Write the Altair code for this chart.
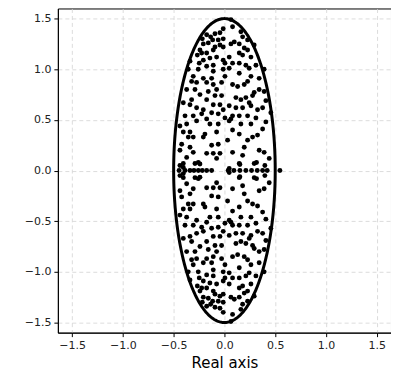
import altair as alt
import numpy as np
import pandas as pd

# Complex eigenvalues in the upper half-plane (real part, imaginary part); their conjugates are mirrored below
upper_re = [
    -0.012, -0.175, -0.136, -0.093, -0.044, -0.218, -0.116, -0.061, -0.012, -0.208,
    -0.159, -0.093, -0.044, -0.241, -0.224, -0.267, -0.175, -0.110, -0.012, -0.143,
    -0.077, -0.012, -0.208, -0.339, -0.248, -0.175, -0.110, 0.005,
    0.064, 0.080, 0.162, 0.179, 0.097, 0.064, 0.146, 0.228, 0.293, 0.195,
    0.228, 0.146, 0.179, 0.047, 0.261, 0.080, 0.146, 0.211, 0.310,
    -0.356, -0.258, -0.110, -0.012, -0.307, -0.208, -0.126, 0.005, -0.323, -0.274,
    -0.175, -0.110, -0.028, -0.372, -0.290, -0.159, -0.077, -0.241, -0.093, -0.028,
    -0.323, -0.175, -0.405, -0.339, -0.110, -0.044, -0.274, -0.208, -0.012, -0.126,
    -0.388, -0.307, -0.224, -0.061, 0.005, -0.175,
    0.047, 0.146, 0.244, 0.391, 0.261, 0.342, 0.228, 0.080, 0.130, 0.195,
    0.342, 0.391, 0.293, 0.113, 0.162, 0.211, 0.277, 0.244, 0.408, 0.047,
    0.113, 0.179, 0.261, 0.326, 0.376, 0.457, 0.080, 0.146, 0.228, 0.310, 0.064,
    -0.438, -0.372, -0.274, -0.143, -0.061, -0.405, -0.339, -0.192, -0.077, -0.356,
    -0.307, -0.208, -0.421, -0.339, -0.126, -0.061, -0.438, -0.307, -0.175, -0.110,
    -0.044, -0.372, -0.077, -0.290, -0.405,
    0.047, 0.162, 0.261, 0.408, 0.080, 0.146, 0.376, 0.031, 0.228, 0.277,
    0.326, 0.195, 0.080, 0.342, 0.391, 0.179, 0.441, 0.146, 0.293, 0.047,
    -0.257, 0.316, 0.398, -0.438, -0.405, -0.241, 0.152,
]
upper_im = [
    1.40, 1.34, 1.32, 1.35, 1.36, 1.30, 1.29, 1.29, 1.30, 1.25,
    1.26, 1.22, 1.24, 1.19, 1.16, 1.14, 1.16, 1.19, 1.22, 1.11,
    1.12, 1.09, 1.09, 1.08, 1.06, 1.03, 1.04, 1.06,
    1.49, 1.42, 1.37, 1.32, 1.27, 1.25, 1.25, 1.29, 1.24, 1.21,
    1.19, 1.16, 1.14, 1.12, 1.12, 1.06, 1.06, 1.04, 1.04,
    1.00, 1.00, 0.98, 1.00, 0.93, 0.91, 0.91, 0.93, 0.88, 0.87,
    0.87, 0.85, 0.87, 0.80, 0.80, 0.78, 0.80, 0.75, 0.74, 0.74,
    0.70, 0.70, 0.67, 0.65, 0.65, 0.65, 0.62, 0.60, 0.60, 0.57,
    0.54, 0.54, 0.56, 0.56, 0.52, 0.51,
    1.01, 0.96, 1.01, 1.00, 0.93, 0.91, 0.88, 0.85, 0.83, 0.85,
    0.80, 0.78, 0.77, 0.72, 0.70, 0.72, 0.74, 0.67, 0.69, 0.64,
    0.62, 0.62, 0.64, 0.60, 0.62, 0.57, 0.54, 0.54, 0.54, 0.52, 0.51,
    0.44, 0.46, 0.49, 0.46, 0.46, 0.38, 0.38, 0.36, 0.38, 0.33,
    0.33, 0.33, 0.26, 0.23, 0.25, 0.26, 0.20, 0.18, 0.17, 0.17,
    0.17, 0.13, 0.12, 0.07, 0.07,
    0.49, 0.46, 0.46, 0.48, 0.40, 0.36, 0.41, 0.30, 0.30, 0.33,
    0.35, 0.23, 0.18, 0.20, 0.18, 0.15, 0.12, 0.07, 0.07, 0.02,
    0.08, 0.08, 0.05, 0.05, 0.03, 0.065, 0.06,
]
# Purely real eigenvalues
real_eigs = [
    -0.447, -0.388, -0.339, -0.300, -0.257, -0.218, -0.175, -0.126,
    0.037, 0.093, 0.152, 0.211, 0.267, 0.323, 0.376, 0.421, 0.546,
]

# Ellipse (elliptic law boundary)
ellipse_a = 0.5   # semi-axis along real axis
ellipse_b = 1.5   # semi-axis along imaginary axis

eig_df = pd.DataFrame({
    "re": upper_re + upper_re + real_eigs,
    "im": upper_im + [-v for v in upper_im] + [0.0] * len(real_eigs),
})

t = np.linspace(0, 2 * np.pi, 361)
ell_df = pd.DataFrame({
    "re": ellipse_a * np.cos(t),
    "im": ellipse_b * np.sin(t),
    "k": np.arange(len(t)),
})

ticks = [-1.5, -1.0, -0.5, 0.0, 0.5, 1.0, 1.5]

xscale = alt.Scale(domain=[-1.64, 1.64], nice=False, zero=False)
yscale = alt.Scale(domain=[-1.6, 1.6], nice=False, zero=False)

xaxis = alt.Axis(values=ticks, format=".1f", title="Real axis")
yaxis = alt.Axis(values=ticks, format=".1f", title=None)

points = alt.Chart(eig_df).mark_circle(color="black", opacity=1, size=24).encode(
    x=alt.X("re:Q", scale=xscale, axis=xaxis),
    y=alt.Y("im:Q", scale=yscale, axis=yaxis),
)

ellipse = alt.Chart(ell_df).mark_line(color="black", strokeWidth=3).encode(
    x=alt.X("re:Q", scale=xscale, axis=xaxis),
    y=alt.Y("im:Q", scale=yscale, axis=yaxis),
    order="k:Q",
)

chart = (
    alt.layer(points, ellipse)
    .properties(
        width=334,
        height=325,
        autosize=alt.AutoSizeParams(type="none"),
        padding={"left": 50, "top": 0, "right": 0, "bottom": 40},
    )
    .configure_view(stroke="black", strokeWidth=1)
    .configure_axis(
        labelFont="DejaVu Sans",
        labelFontSize=11,
        labelColor="#222222",
        labelPadding=3,
        tickColor="black",
        tickSize=4,
        domainColor="black",
        domainWidth=1,
        grid=True,
        gridColor="#d3d3d3",
        gridDash=[4, 3],
        gridWidth=0.8,
        titleFont="DejaVu Sans",
        titleFontSize=15,
        titleFontWeight="normal",
        titleColor="black",
        titlePadding=5,
    )
)

chart.save("out.html", embed_options={"renderer": "svg", "actions": False})
